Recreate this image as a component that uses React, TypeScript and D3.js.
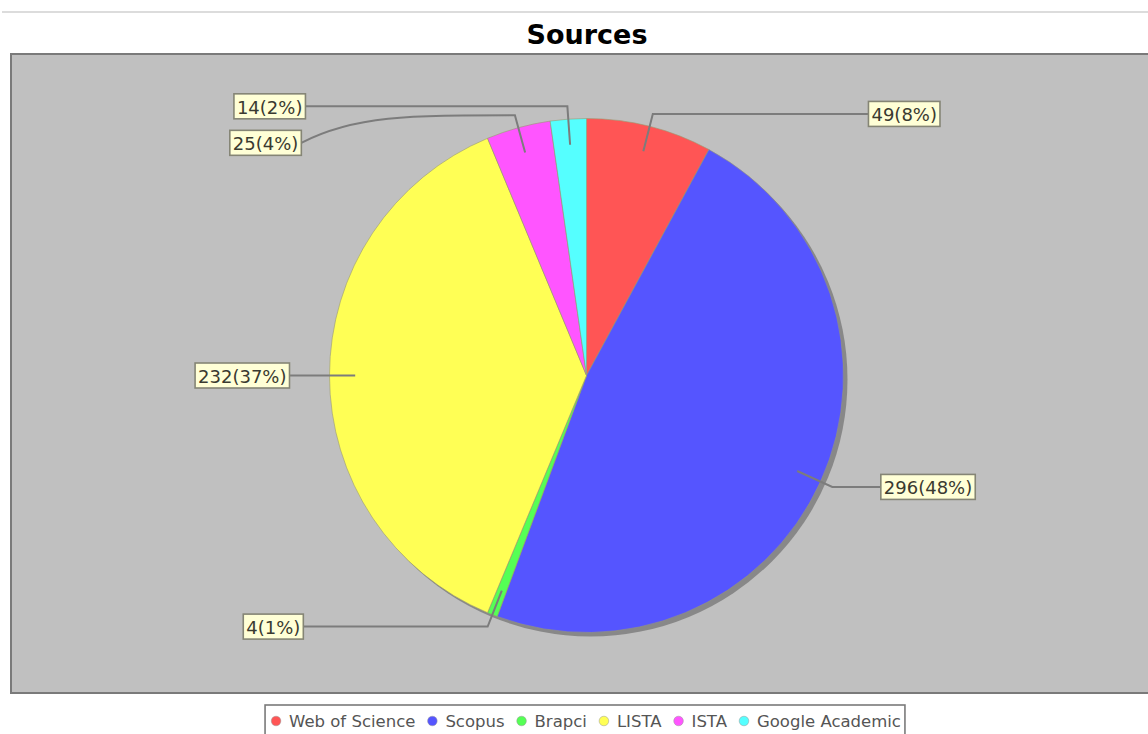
import React, { useEffect, useRef } from 'react';
import * as d3 from 'd3';

const title = 'Sources';
const categories = ['Web of Science', 'Scopus', 'Brapci', 'LISTA', 'ISTA', 'Google Academic'];
const values = [49, 296, 4, 232, 25, 14];
const colors = ['#ff5555', '#5555ff', '#55ff55', '#ffff55', '#ff55ff', '#55ffff'];

const W = 1148;
const H = 734;

export default function App() {
  const ref = useRef<SVGSVGElement | null>(null);

  useEffect(() => {
    document.body.style.margin = '0';
    const svg = d3.select(ref.current);
    svg.selectAll('*').remove();

    const total = d3.sum(values);
    const cx = 586.5;
    const cy = 375.5;
    const r = 257;

    // top separator line
    svg.append('line').attr('x1', 2).attr('x2', W).attr('y1', 12).attr('y2', 12)
      .attr('stroke', '#dcdcdc').attr('stroke-width', 2);

    // title
    svg.append('text').attr('x', 587).attr('y', 44).attr('text-anchor', 'middle')
      .attr('font-family', 'DejaVu Sans').attr('font-weight', 'bold').attr('font-size', 27)
      .attr('fill', '#000').text(title);

    // plot area
    svg.append('rect').attr('x', 11).attr('y', 54).attr('width', W - 10).attr('height', 639)
      .attr('fill', '#c0c0c0').attr('stroke', '#7a7a7a').attr('stroke-width', 2);

    const pie = d3.pie<number>().sort(null).value(d => d);
    const arcs = pie(values);
    const arc = d3.arc<d3.PieArcDatum<number>>().innerRadius(0).outerRadius(r);

    // shadow
    const g0 = svg.append('g').attr('transform', `translate(${cx + 4},${cy + 4})`);
    g0.append('circle').attr('r', r).attr('fill', '#888888');

    const g = svg.append('g').attr('transform', `translate(${cx},${cy})`);
    g.selectAll('path.slice').data(arcs).enter().append('path')
      .attr('class', 'slice')
      .attr('d', d => arc(d) as string)
      .attr('fill', (_, i) => colors[i])
      .attr('stroke', '#9a9a70').attr('stroke-width', 0.6);

    // labels
    type L = { i: number; a: number; ax: number; ay: number; ex: number; ey: number; y: number; side: number; text: string };
    const labels: L[] = arcs.map((d, i) => {
      const a = (d.startAngle + d.endAngle) / 2;
      const s = Math.sin(a), c = Math.cos(a);
      return {
        i, a,
        ax: cx + 0.9 * r * s, ay: cy - 0.9 * r * c,
        ex: cx + 1.05 * r * s, ey: cy - 1.05 * r * c,
        y: cy - 1.05 * r * c,
        side: s >= 0 ? 1 : -1,
        text: `${values[i]}(${Math.round((values[i] / total) * 100)}%)`,
      };
    });
    const gap = 36.5;
    [1, -1].forEach(side => {
      const ls = labels.filter(l => l.side === side).sort((p, q) => p.y - q.y);
      for (let k = 1; k < ls.length; k++) {
        if (ls[k].y < ls[k - 1].y + gap) ls[k].y = ls[k - 1].y + gap;
      }
    });

    const A = r + 40;
    const B = r * 3.24;
    const fontSize = 18;
    const pad = 3;
    const bh = 25;
    const lg = svg.append('g');
    labels.forEach(l => {
      const dy = l.y - cy;
      const dx = A * Math.sqrt(Math.max(0, 1 - (dy / B) ** 2));
      const edgeX = cx + l.side * dx;
      const mx1 = edgeX + 0.25 * (l.ex - edgeX);
      const mx2 = edgeX + 0.5 * (l.ex - edgeX);
      const p = d3.path();
      p.moveTo(l.ax, l.ay);
      p.lineTo(l.ex, l.ey);
      p.bezierCurveTo(mx2, l.ey, mx1, l.ey, edgeX, l.y);
      lg.append('path').attr('d', p.toString()).attr('fill', 'none')
        .attr('stroke', '#7c7c7c').attr('stroke-width', 2);

      const t = lg.append('text').attr('font-family', 'DejaVu Sans').attr('font-size', fontSize)
        .attr('fill', '#3a3a30').attr('dominant-baseline', 'central').text(l.text);
      const tw = (t.node() as SVGTextElement).getComputedTextLength();
      const bw = tw + 2 * pad;
      const bx = l.side > 0 ? edgeX : edgeX - bw;
      lg.insert('rect', 'text:last-child')
        .attr('x', bx).attr('y', l.y - bh / 2).attr('width', bw).attr('height', bh)
        .attr('fill', '#ffffd6').attr('stroke', '#858575').attr('stroke-width', 1.6);
      t.attr('x', bx + pad).attr('y', l.y + 1);
    });

    // legend
    const legend = svg.append('g');
    const lfs = 16.5;
    const items = categories.map((name, i) => {
      const tt = legend.append('text').attr('font-family', 'DejaVu Sans').attr('font-size', lfs)
        .attr('fill', '#555').text(name);
      const w = (tt.node() as SVGTextElement).getComputedTextLength();
      return { name, i, tt, w };
    });
    const circleW = 20;
    const itemGap = 10;
    const totalW = d3.sum(items, it => circleW + it.w) + itemGap * (items.length - 1);
    const padL = 4;
    const boxW = totalW + 2 * padL;
    const boxX = 585 - boxW / 2;
    const boxY = 705;
    legend.insert('rect', ':first-child').attr('x', boxX).attr('y', boxY).attr('width', boxW).attr('height', 40)
      .attr('fill', '#fff').attr('stroke', '#7a7a7a').attr('stroke-width', 1.6);
    let x = boxX + padL;
    const ly = 721;
    items.forEach(it => {
      legend.append('circle').attr('cx', x + 7).attr('cy', ly).attr('r', 4.8)
        .attr('fill', colors[it.i]).attr('stroke', '#999').attr('stroke-width', 0.5);
      it.tt.attr('x', x + circleW).attr('y', ly).attr('dominant-baseline', 'central');
      x += circleW + it.w + itemGap;
    });
  }, []);

  return <svg ref={ref} width={W} height={H} style={{ display: 'block', position: 'absolute', left: 0, top: 0, background: '#fff' }} />;
}
